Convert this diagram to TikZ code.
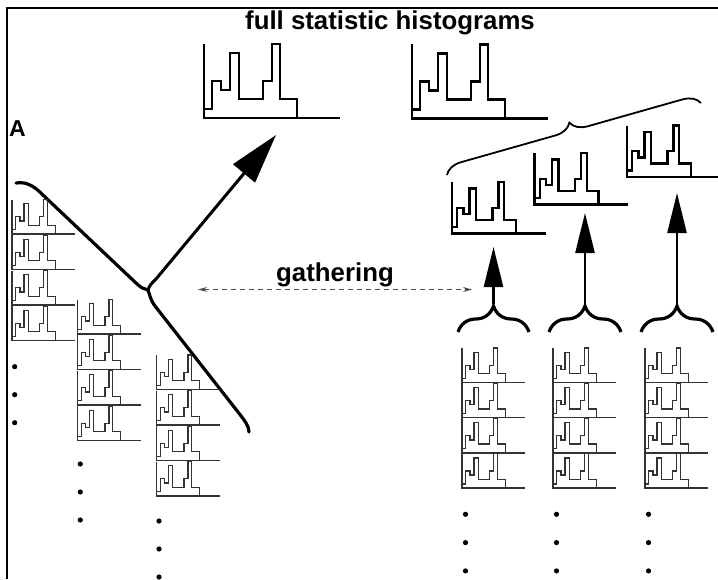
\documentclass[tikz,border=0pt]{standalone}
\usepackage{fontspec}
\setmainfont{Liberation Sans}
\usetikzlibrary{arrows.meta}
\usetikzlibrary{decorations.pathreplacing}

\tikzset{
 histline/.style={line width=2.8pt},
 hist/.pic={
  \draw[histline] (0,-74) -- (0,0) -- (136,0);
  \draw[histline] (0,-9) -| (8,-37) -| (17,-28) -| (26,-65) -| (35,-19) -| (59,-37) -| (68,-74) -| (76,-19) -| (93,0);
 },
 midhist/.style={scale=.69, histline/.style={line width=2.4pt}},
 smallhist/.style={scale=.465, histline/.style={draw=black!80, line width=1.3pt}},
 treeline/.style={line width=3.2pt, line cap=round},
 bigarrow/.style={line width=3pt, -{Triangle[length=50pt,width=28pt]}},
 uparrow/.style={line width=2.5pt, -{Triangle[length=40pt,width=19pt]}},
 gatherarrow/.style={draw=black!70, line width=.8pt, dash pattern=on 5pt off 4pt,
   {Stealth[length=9pt,width=5pt]}-{Stealth[length=9pt,width=5pt]}},
 topbrace/.style={decorate, decoration={brace, amplitude=17pt}, line width=1.8pt},
 bottombrace/.style={decorate, decoration={brace, amplitude=26pt}, line width=3.2pt},
 bigtext/.style={font=\bfseries\fontsize{25.8}{30}\selectfont, inner sep=0, anchor=base},
}

\begin{document}
\begin{tikzpicture}[x=1pt, y=-1pt]
\useasboundingbox (0,0) rectangle (718,579);
% frame
\draw[line width=2pt] (7,579) -- (7,8) -- (718,8);
\node[bigtext] (title) at (390,29) {full statistic histograms};
\node[bigtext, font=\bfseries\fontsize{23}{27}\selectfont] (lblA) at (17.5,136) {A};

% full histograms
\pic at (204,118) {hist};
\pic at (412,118.3) {hist};

% tree
\coordinate (leafL) at (16,183);
\coordinate (junc) at (148,290);
\coordinate (leafR) at (249,432);
\coordinate (rootTip) at (276,135);
\draw[treeline] (leafL) .. controls (28,181) and (36,188) .. (44,196) -- (136,283)
  .. controls (141,288) and (144,289) .. (junc)
  .. controls (150,296) and (151,301) .. (155,306) -- (238,412)
  .. controls (245,421) and (249,426) .. (leafR);
\draw[bigarrow] (junc) .. controls (150,285) .. (156,279) -- (rootTip);

% left stacks
\foreach \cx/\cy in {12/234, 77.5/334, 156.5/389.5}{
 \foreach \k in {0,...,3}
  \pic[smallhist] at (\cx,\cy+35.5*\k) {hist};
}
\foreach \cx/\cy in {14.7/366.7, 80.3/464, 159/521}{
 \foreach \k in {0,1,2}
  \fill (\cx,\cy+28*\k) circle[radius=2.6pt];
}

% gathering
\node[bigtext] (gather) at (335,281.7) {gathering};
\coordinate (gl) at (198,289.5);
\coordinate (gr) at (472,289.5);
\draw[gatherarrow] (gl) -- (gr);

% right side
\pic[midhist] at (451.7,233.3) {hist};
\pic[midhist] at (534.3,204.3) {hist};
\pic[midhist] at (626.7,176.7) {hist};
\draw[topbrace] (447,175) -- (701,103);

\foreach \cx in {462,553,645}{
 \foreach \k in {0,...,3}
  \pic[smallhist] at (\cx,382.5+35.2*\k) {hist};
 \foreach \k in {0,1,2}
  \fill (\cx+3.5,514.3+28.3*\k) circle[radius=2.6pt];
}
\draw[bottombrace] (458,332) -- (529,332);
\draw[bottombrace] (549,332) -- (621,332);
\draw[bottombrace] (641,332) -- (713,332);

\coordinate (b1) at (493.5,304);
\coordinate (b2) at (585,304);
\coordinate (b3) at (677,306);
\coordinate (t1) at (493.5,247);
\coordinate (t2) at (585,213);
\coordinate (t3) at (677,193);
\draw[uparrow] (b1) -- (t1);
\draw[uparrow] (b2) -- (t2);
\draw[uparrow] (b3) -- (t3);
\end{tikzpicture}
\end{document}
